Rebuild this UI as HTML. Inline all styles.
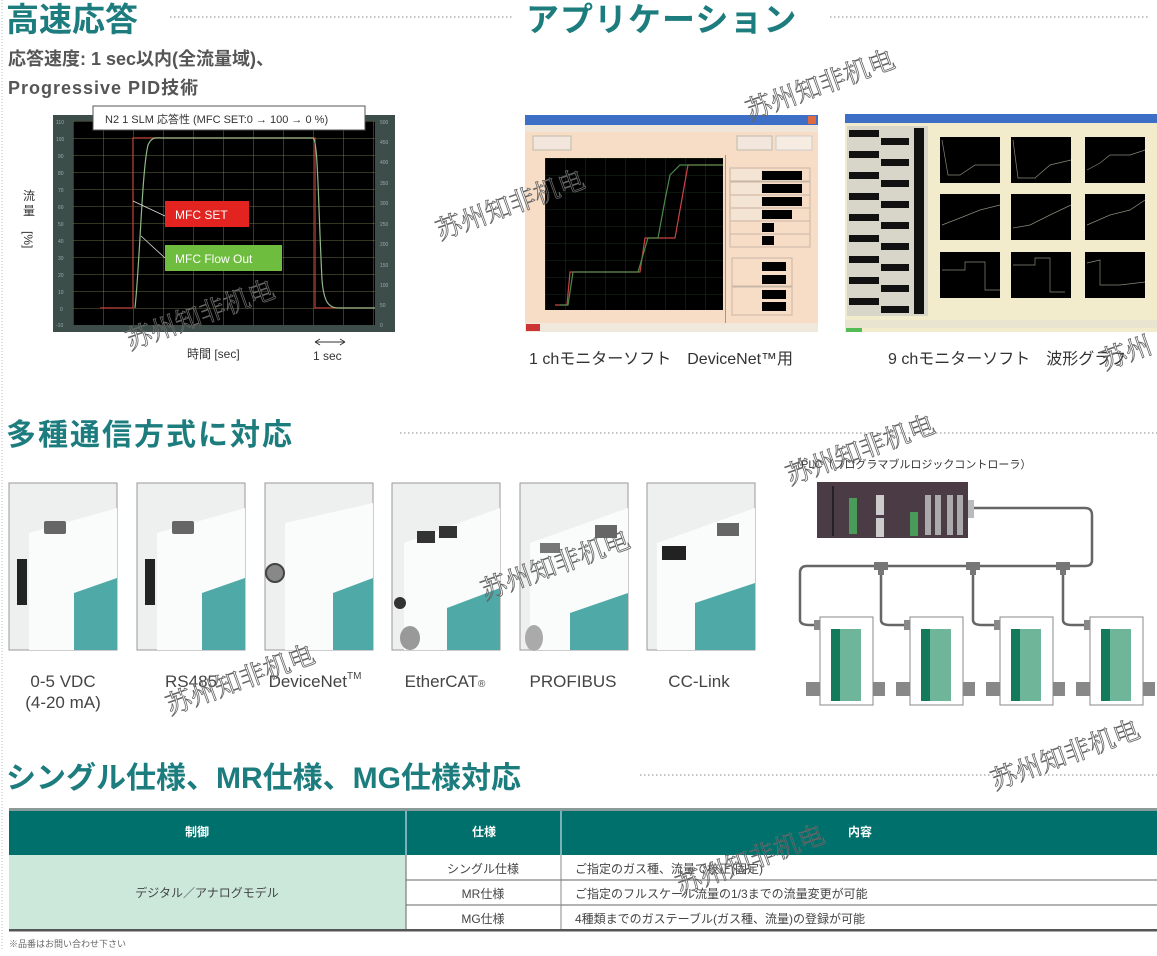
<!DOCTYPE html>
<html><head><meta charset="utf-8">
<style>
html,body{margin:0;padding:0;background:#fff;}
body{width:1157px;height:951px;overflow:hidden;position:relative;font-family:"Liberation Sans","Noto Sans CJK JP",sans-serif;}
svg text{font-family:"Liberation Sans","Noto Sans CJK JP",sans-serif;}
.wm{font-family:"Noto Serif CJK SC","Liberation Serif",serif !important;fill:none;stroke:#666;stroke-width:0.8;font-size:26px;}
</style></head>
<body>
<svg width="1157" height="951" viewBox="0 0 1157 951" xmlns="http://www.w3.org/2000/svg">
<defs>
<pattern id="g1" width="30" height="17" patternUnits="userSpaceOnUse" x="73" y="121">
<path d="M0 0H30M0 0V17" stroke="#8d8f55" stroke-width="0.8" fill="none"/></pattern>
<pattern id="g2" width="20" height="17" patternUnits="userSpaceOnUse" x="545" y="158">
<path d="M0 0H20M0 0V17" stroke="#2e5a2e" stroke-width="0.6" fill="none"/></pattern>
</defs>
<line x1="2" y1="0" x2="2" y2="951" stroke="#bbb" stroke-dasharray="1 2"/>

<!-- section 1 -->
<text x="6" y="31" font-size="33" font-weight="bold" fill="#1c7c7e">高速応答</text>
<line x1="170" y1="17" x2="512" y2="17" stroke="#888" stroke-dasharray="1.5 2.5"/>
<text x="8" y="65" font-size="18" font-weight="bold" fill="#555">応答速度: 1 sec以内(全流量域)、</text>
<text x="8" y="94" font-size="18" font-weight="bold" fill="#555" letter-spacing="1">Progressive PID技術</text>

<rect x="53" y="115" width="342" height="217" fill="#3d4d4a"/>
<rect x="73" y="121" width="302" height="204" fill="#000"/>
<rect x="73" y="121" width="302" height="204" fill="url(#g1)"/>
<g font-size="5" fill="#9aa">
<text x="56" y="124">110</text><text x="56" y="141">100</text><text x="58" y="158">90</text><text x="58" y="175">80</text><text x="58" y="192">70</text><text x="58" y="209">60</text><text x="58" y="226">50</text><text x="58" y="243">40</text><text x="58" y="260">30</text><text x="58" y="277">20</text><text x="58" y="294">10</text><text x="60" y="311">0</text><text x="56" y="327">-10</text>
<text x="380" y="124">500</text><text x="380" y="144">450</text><text x="380" y="164">400</text><text x="380" y="185">350</text><text x="380" y="205">300</text><text x="380" y="226">250</text><text x="380" y="246">200</text><text x="380" y="267">150</text><text x="380" y="287">100</text><text x="380" y="307">50</text><text x="380" y="327">0</text>
</g>
<path d="M100 308H133V138H315V308H375" stroke="#c0473a" stroke-width="1.2" fill="none"/>
<path d="M135 308C140 260 142 170 148 145C152 136 156 138 163 138H313C318 140 318 200 322 280C324 305 330 308 340 308H375" stroke="#8fb98a" stroke-width="1.2" fill="none"/>
<line x1="133" y1="201" x2="165" y2="216" stroke="#ddd" stroke-width="0.8"/>
<line x1="141" y1="236" x2="165" y2="258" stroke="#ddd" stroke-width="0.8"/>
<rect x="93" y="106" width="272" height="24" fill="#fff" stroke="#555" stroke-width="1"/>
<text x="105" y="123" font-size="11" fill="#333">N2 1 SLM  応答性 (MFC  SET:0 → 100 → 0 %)</text>
<rect x="165" y="201" width="84" height="26" fill="#e2231f"/>
<text x="175" y="219" font-size="12" fill="#fff">MFC   SET</text>
<rect x="165" y="245" width="117" height="26" fill="#6fbd3f"/>
<text x="175" y="263" font-size="12" fill="#fff">MFC  Flow  Out</text>
<text x="23" y="200" font-size="12" fill="#333">流</text>
<text x="23" y="215" font-size="12" fill="#333">量</text>
<text x="23" y="244" font-size="12" fill="#333" transform="rotate(90 30 238)">[%]</text>
<text x="187" y="358" font-size="12" fill="#333">時間 [sec]</text>
<path d="M315 342H345M315 342l5-3M315 342l5 3M345 342l-5-3M345 342l-5 3" stroke="#333" fill="none"/>
<text x="313" y="360" font-size="12" fill="#333">1 sec</text>

<!-- application -->
<text x="526" y="31" font-size="33" font-weight="bold" fill="#1c7c7e" letter-spacing="1">アプリケーション</text>
<line x1="830" y1="17" x2="1150" y2="17" stroke="#888" stroke-dasharray="1.5 2.5"/>

<rect x="525" y="115" width="293" height="217" fill="#f7dcc6"/>
<rect x="525" y="115" width="293" height="10" fill="#3d6fc6"/>
<rect x="808" y="116" width="8" height="8" fill="#e06a40"/>
<rect x="525" y="125" width="293" height="7" fill="#efe5d8"/>
<rect x="533" y="136" width="38" height="14" fill="#f3e6dc" stroke="#bba"/>
<rect x="737" y="136" width="35" height="14" fill="#f3e6dc" stroke="#bba"/>
<rect x="776" y="136" width="36" height="14" fill="#f6ece2" stroke="#ccc"/>
<rect x="545" y="158" width="178" height="152" fill="#000"/>
<rect x="545" y="158" width="178" height="152" fill="url(#g2)"/>
<path d="M555 305L567 305L570 272H640L645 238H675L688 165H723" stroke="#c44" stroke-width="1.2" fill="none"/>
<path d="M560 305L568 305L573 272H638L648 238H658L665 200L670 175L680 165H723" stroke="#4a8a4a" stroke-width="1.2" fill="none"/>
<rect x="725" y="155" width="1" height="170" fill="#999"/>
<g fill="#000"><rect x="762" y="171" width="40" height="9"/><rect x="762" y="184" width="40" height="9"/><rect x="762" y="197" width="40" height="9"/><rect x="762" y="210" width="30" height="9"/><rect x="762" y="223" width="12" height="9"/><rect x="762" y="236" width="12" height="9"/><rect x="762" y="262" width="24" height="9"/><rect x="762" y="275" width="24" height="9"/><rect x="762" y="290" width="24" height="9"/><rect x="762" y="302" width="24" height="9"/></g>
<g stroke="#c8b8a8" fill="none"><rect x="730" y="168" width="80" height="13"/><rect x="730" y="182" width="80" height="13"/><rect x="730" y="195" width="80" height="13"/><rect x="730" y="208" width="80" height="13"/><rect x="730" y="221" width="80" height="13"/><rect x="730" y="234" width="80" height="13"/><rect x="732" y="258" width="60" height="28"/><rect x="732" y="287" width="60" height="28"/></g>
<g fill="#f3e4d4"><rect x="731" y="169" width="30" height="11"/><rect x="731" y="183" width="30" height="11"/><rect x="731" y="196" width="30" height="11"/><rect x="731" y="209" width="30" height="11"/></g>
<rect x="525" y="323" width="293" height="9" fill="#f0e8dc"/><rect x="526" y="324" width="14" height="7" fill="#c33"/>
<text x="529" y="364" font-size="16" fill="#333">1 chモニターソフト　DeviceNet™用</text>

<rect x="845" y="114" width="312" height="218" fill="#f3eccc"/>
<rect x="845" y="114" width="312" height="9" fill="#3d6fc6"/>
<rect x="847" y="126" width="81" height="190" fill="#d8d6c8"/>
<g fill="#111">
<rect x="849" y="130" width="30" height="7"/><rect x="849" y="151" width="30" height="7"/><rect x="849" y="172" width="30" height="7"/><rect x="849" y="193" width="30" height="7"/><rect x="849" y="214" width="30" height="7"/><rect x="849" y="235" width="30" height="7"/><rect x="849" y="256" width="30" height="7"/><rect x="849" y="277" width="30" height="7"/><rect x="849" y="298" width="30" height="7"/>
<rect x="881" y="138" width="28" height="7"/><rect x="881" y="159" width="28" height="7"/><rect x="881" y="180" width="28" height="7"/><rect x="881" y="201" width="28" height="7"/><rect x="881" y="222" width="28" height="7"/><rect x="881" y="243" width="28" height="7"/><rect x="881" y="264" width="28" height="7"/><rect x="881" y="285" width="28" height="7"/><rect x="881" y="306" width="28" height="7"/>
<rect x="914" y="128" width="10" height="186"/>
</g>
<g fill="#000">
<rect x="940" y="137" width="60" height="46"/><rect x="1011" y="137" width="60" height="46"/><rect x="1085" y="137" width="60" height="46"/>
<rect x="940" y="194" width="60" height="46"/><rect x="1011" y="194" width="60" height="46"/><rect x="1085" y="194" width="60" height="46"/>
<rect x="940" y="252" width="60" height="46"/><rect x="1011" y="252" width="60" height="46"/><rect x="1085" y="252" width="60" height="46"/>
</g>
<g stroke="#8a8a7a" stroke-width="0.7" fill="none">
<path d="M942 140L948 175H960L975 165H1000"/><path d="M1013 140L1018 178H1035L1050 165L1071 160"/><path d="M1087 170L1100 163L1110 155L1130 155L1145 150"/>
<path d="M942 225L960 218L980 210L1000 205"/><path d="M1013 228L1030 225L1050 215L1071 205"/><path d="M1087 225L1110 215L1130 210L1145 200"/>
<path d="M942 270H965V262H985V290H1000"/><path d="M1013 265H1035V258H1050V292H1065"/><path d="M1087 263L1100 260V285H1120L1145 282"/>
</g>
<rect x="845" y="320" width="312" height="8" fill="#e8e4d0"/>
<rect x="846" y="328" width="16" height="4" fill="#5b5"/>
<text x="888" y="364" font-size="16" fill="#333">9 chモニターソフト　波形グラフ</text>

<!-- section 2 -->
<text x="6" y="445" font-size="30" font-weight="bold" fill="#1c7c7e" letter-spacing="2">多種通信方式に対応</text>
<line x1="400" y1="433" x2="1157" y2="433" stroke="#888" stroke-dasharray="1.5 2.5"/>

<g>
<g transform="translate(9,483)"><rect width="108" height="167" fill="#eef0f0" stroke="#999"/><path d="M20 50L108 25V167H20Z" fill="#fafbfb"/><rect x="8" y="76" width="10" height="46" fill="#222"/><rect x="35" y="38" width="22" height="13" fill="#666" rx="2"/><path d="M65 110L108 95V167H65Z" fill="#4fa9a6"/></g>
<g transform="translate(137,483)"><rect width="108" height="167" fill="#eef0f0" stroke="#999"/><path d="M20 50L108 25V167H20Z" fill="#fafbfb"/><rect x="8" y="76" width="10" height="46" fill="#222"/><rect x="35" y="38" width="22" height="13" fill="#666" rx="2"/><path d="M65 110L108 95V167H65Z" fill="#4fa9a6"/></g>
<g transform="translate(265,483)"><rect width="108" height="167" fill="#eef0f0" stroke="#999"/><path d="M20 40L108 20V167H20Z" fill="#fafbfb"/><circle cx="10" cy="90" r="9" fill="#888" stroke="#444" stroke-width="2"/><path d="M68 110L108 95V167H68Z" fill="#4fa9a6"/></g>
<g transform="translate(392,483)"><rect width="108" height="167" fill="#eef0f0" stroke="#999"/><path d="M12 60L108 25V167H12Z" fill="#fafbfb"/><rect x="25" y="48" width="18" height="12" fill="#333"/><rect x="47" y="43" width="18" height="12" fill="#333"/><circle cx="8" cy="120" r="6" fill="#333"/><ellipse cx="18" cy="155" rx="10" ry="12" fill="#999"/><path d="M55 125L108 105V167H55Z" fill="#4fa9a6"/></g>
<g transform="translate(520,483)"><rect width="108" height="167" fill="#eef0f0" stroke="#999"/><path d="M10 60L108 25V167H10Z" fill="#fafbfb"/><rect x="20" y="60" width="20" height="10" fill="#777"/><rect x="75" y="42" width="22" height="13" fill="#666"/><path d="M50 130L108 110V167H50Z" fill="#4fa9a6"/><ellipse cx="14" cy="155" rx="9" ry="13" fill="#aaa"/></g>
<g transform="translate(647,483)"><rect width="108" height="167" fill="#eef0f0" stroke="#999"/><path d="M10 60L108 25V167H10Z" fill="#fafbfb"/><rect x="15" y="63" width="24" height="14" fill="#222"/><rect x="70" y="40" width="22" height="13" fill="#666"/><path d="M48 120L108 100V167H48Z" fill="#4fa9a6"/></g>
</g>
<g font-size="17" fill="#444" text-anchor="middle">
<text x="63" y="687">0-5 VDC</text><text x="63" y="708">(4-20 mA)</text>
<text x="191" y="687">RS485</text>
<text x="315" y="687">DeviceNet<tspan font-size="10" dy="-8">TM</tspan></text>
<text x="445" y="687">EtherCAT<tspan font-size="10">®</tspan></text>
<text x="573" y="687">PROFIBUS</text>
<text x="699" y="687">CC-Link</text>
</g>

<!-- PLC diagram -->
<text x="790" y="468" font-size="11" fill="#333">（PLC（プログラマブルロジックコントローラ）</text>
<rect x="817" y="482" width="151" height="56" fill="#4a3b44"/>
<line x1="833" y1="486" x2="833" y2="536" stroke="#222" stroke-width="2"/>
<rect x="849" y="498" width="8" height="36" fill="#4a9a5a"/>
<rect x="876" y="495" width="8" height="20" fill="#ccc"/><rect x="876" y="518" width="8" height="19" fill="#ccc"/>
<rect x="910" y="512" width="8" height="24" fill="#4a9a5a"/>
<g fill="#aaa"><rect x="925" y="495" width="6" height="40"/><rect x="935" y="495" width="6" height="40"/><rect x="947" y="495" width="6" height="40"/><rect x="957" y="495" width="6" height="40"/></g>
<rect x="968" y="500" width="6" height="18" fill="#bbb"/>
<path d="M974 508H1085Q1092 508 1092 515V560Q1092 566 1085 566H807Q800 566 800 573V620Q800 625 810 625H818" stroke="#666" stroke-width="2.5" fill="none"/>
<g fill="#777"><rect x="874" y="562" width="14" height="8"/><rect x="966" y="562" width="14" height="8"/><rect x="1056" y="562" width="14" height="8"/>
<rect x="878" y="570" width="6" height="5"/><rect x="970" y="570" width="6" height="5"/><rect x="1060" y="570" width="6" height="5"/></g>
<path d="M881 575V620Q881 625 890 625H908M973 575V620Q973 625 982 625H998M1063 575V620Q1063 625 1072 625H1088" stroke="#666" stroke-width="2.5" fill="none"/>
<g>
<g transform="translate(820,617)"><rect width="53" height="88" fill="#fff" stroke="#888"/><rect x="11" y="12" width="9" height="72" fill="#137a5c"/><rect x="20" y="12" width="21" height="72" fill="#6fb59a"/><rect x="-14" y="65" width="14" height="14" fill="#888"/><rect x="53" y="65" width="12" height="14" fill="#888"/><rect x="-6" y="3" width="6" height="10" fill="#888"/></g>
<g transform="translate(910,617)"><rect width="53" height="88" fill="#fff" stroke="#888"/><rect x="11" y="12" width="9" height="72" fill="#137a5c"/><rect x="20" y="12" width="21" height="72" fill="#6fb59a"/><rect x="-14" y="65" width="14" height="14" fill="#888"/><rect x="53" y="65" width="12" height="14" fill="#888"/><rect x="-6" y="3" width="6" height="10" fill="#888"/></g>
<g transform="translate(1000,617)"><rect width="53" height="88" fill="#fff" stroke="#888"/><rect x="11" y="12" width="9" height="72" fill="#137a5c"/><rect x="20" y="12" width="21" height="72" fill="#6fb59a"/><rect x="-14" y="65" width="14" height="14" fill="#888"/><rect x="53" y="65" width="12" height="14" fill="#888"/><rect x="-6" y="3" width="6" height="10" fill="#888"/></g>
<g transform="translate(1090,617)"><rect width="53" height="88" fill="#fff" stroke="#888"/><rect x="11" y="12" width="9" height="72" fill="#137a5c"/><rect x="20" y="12" width="21" height="72" fill="#6fb59a"/><rect x="-14" y="65" width="14" height="14" fill="#888"/><rect x="53" y="65" width="12" height="14" fill="#888"/><rect x="-6" y="3" width="6" height="10" fill="#888"/></g>
</g>

<!-- section 3 -->
<text x="6" y="788" font-size="30" font-weight="bold" fill="#1c7c7e">シングル仕様、MR仕様、MG仕様対応</text>
<line x1="640" y1="775" x2="1157" y2="775" stroke="#888" stroke-dasharray="1.5 2.5"/>
<rect x="9" y="808" width="1148" height="3" fill="#8a9a98"/>
<rect x="9" y="811" width="1148" height="44" fill="#00706c"/>
<line x1="406" y1="811" x2="406" y2="855" stroke="#cde" stroke-width="1.2"/>
<line x1="561" y1="811" x2="561" y2="855" stroke="#cde" stroke-width="1.2"/>
<g font-size="12" fill="#fff" font-weight="bold" text-anchor="middle"><text x="197" y="836">制御</text><text x="484" y="836">仕様</text><text x="860" y="836">内容</text></g>
<rect x="9" y="855" width="397" height="75" fill="#cce8db"/>
<line x1="406" y1="880" x2="1157" y2="880" stroke="#666"/>
<line x1="406" y1="905" x2="1157" y2="905" stroke="#666"/>
<line x1="406" y1="855" x2="406" y2="930" stroke="#666"/>
<line x1="561" y1="855" x2="561" y2="930" stroke="#888"/>
<rect x="9" y="929" width="1148" height="2.5" fill="#555"/>
<g font-size="12" fill="#444">
<text x="207" y="897" text-anchor="middle">デジタル／アナログモデル</text>
<text x="483" y="873" text-anchor="middle">シングル仕様</text>
<text x="483" y="898" text-anchor="middle">MR仕様</text>
<text x="483" y="923" text-anchor="middle">MG仕様</text>
<text x="575" y="873">ご指定のガス種、流量で校正(固定)</text>
<text x="575" y="898">ご指定のフルスケール流量の1/3までの流量変更が可能</text>
<text x="575" y="923">4種類までのガステーブル(ガス種、流量)の登録が可能</text>
</g>
<text x="9" y="947" font-size="9" fill="#666">※品番はお問い合わせ下さい</text>

<g>
<text class="wm" x="130" y="350" transform="rotate(-20 130 350)">苏州知非机电</text>
<text class="wm" x="440" y="240" transform="rotate(-20 440 240)">苏州知非机电</text>
<text class="wm" x="750" y="120" transform="rotate(-20 750 120)">苏州知非机电</text>
<text class="wm" x="790" y="485" transform="rotate(-20 790 485)">苏州知非机电</text>
<text class="wm" x="485" y="600" transform="rotate(-20 485 600)">苏州知非机电</text>
<text class="wm" x="170" y="715" transform="rotate(-20 170 715)">苏州知非机电</text>
<text class="wm" x="995" y="790" transform="rotate(-20 995 790)">苏州知非机电</text>
<text class="wm" x="680" y="895" transform="rotate(-20 680 895)">苏州知非机电</text>
<text class="wm" x="1105" y="370" transform="rotate(-20 1105 370)">苏州</text>
</g>
</svg>
</body></html>
